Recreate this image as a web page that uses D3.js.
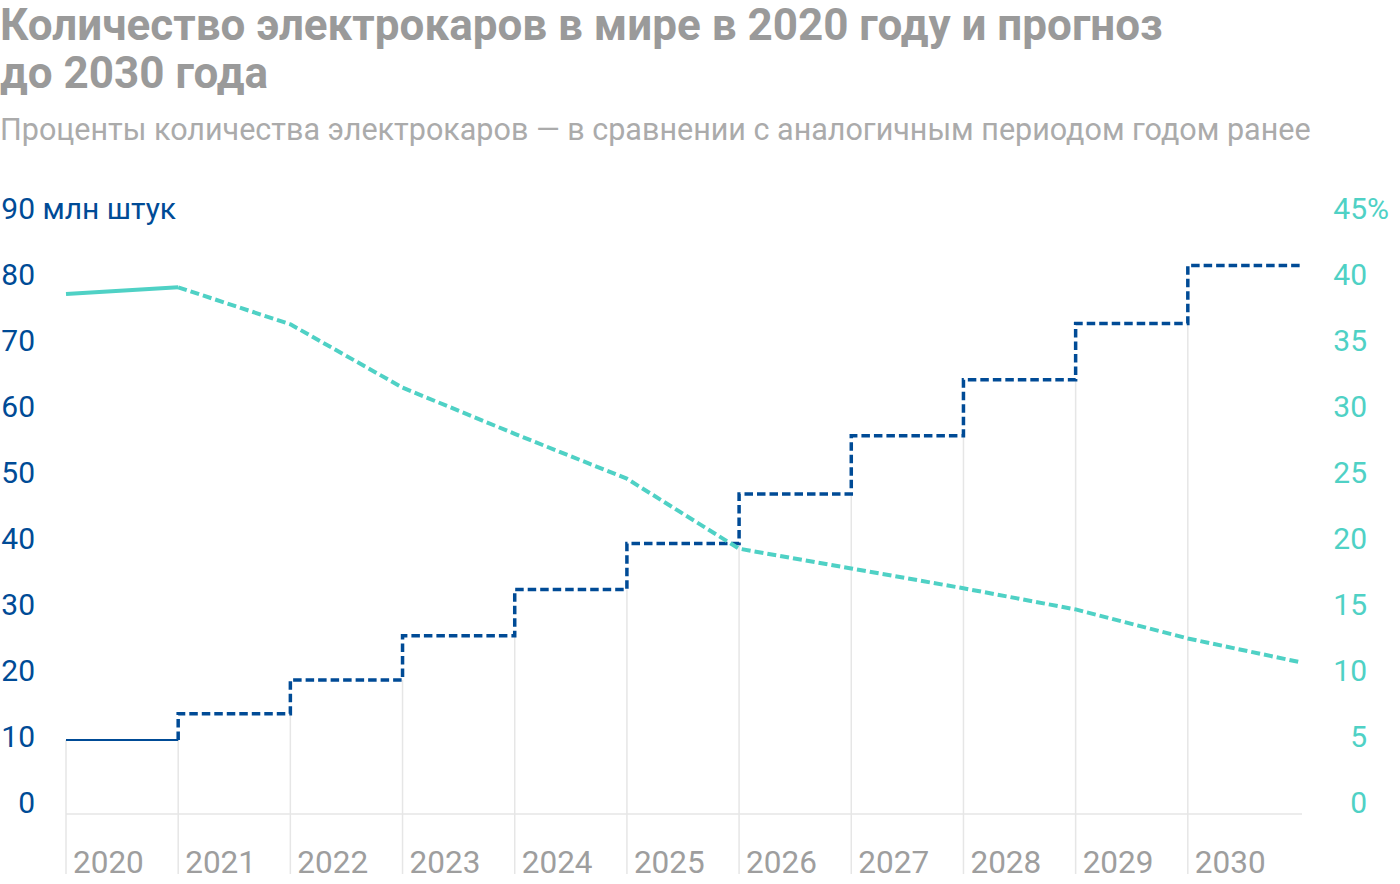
<!DOCTYPE html>
<html>
<head>
<meta charset="utf-8">
<script src="https://cdn.jsdelivr.net/npm/d3@7"></script>
<style>
  html, body { margin: 0; padding: 0; background: #fff; }
  svg { display: block; }
  text { font-family: Roboto, "Noto Sans", sans-serif; }
</style>
</head>
<body>
<svg id="chart" width="1400" height="884"></svg>
<script>
// ---- data ----
const titleLines = ["Количество электрокаров в мире в 2020 году и прогноз", "до 2030 года"];
const subtitle = "Проценты количества электрокаров — в сравнении с аналогичным периодом годом ранее";
const years = [2020, 2021, 2022, 2023, 2024, 2025, 2026, 2027, 2028, 2029, 2030];
const evStock = [11.2, 15.2, 20.3, 27.0, 34.0, 41.0, 48.5, 57.3, 65.8, 74.3, 83.1]; // млн штук
const pctX = [2020, 2021, 2022, 2023, 2024, 2025, 2026, 2027, 2028, 2029, 2030, 2031];
const pctValues = [39.4, 39.9, 37.1, 32.3, 28.8, 25.4, 20.1, 18.6, 17.1, 15.5, 13.3, 11.5]; // %
const leftTicks = [0, 10, 20, 30, 40, 50, 60, 70, 80, 90];
const rightTicks = [0, 5, 10, 15, 20, 25, 30, 35, 40, 45];
const leftUnit = " млн штук";
const rightUnit = "%";

// ---- style ----
const BLUE = "#004b96";
const TEAL = "#4fd1c5";
const GRID = "#e6e6e6";

const svg = d3.select("#chart");

const x = d3.scaleLinear().domain([2020, 2031]).range([66, 1300]);
const yL = d3.scaleLinear().domain([0, 90]).range([814, 220]);
const yR = d3.scaleLinear().domain([0, 45]).range([814, 220]);

// title
svg.append("g").selectAll("text").data(titleLines).join("text")
  .attr("x", 0).attr("y", (d, i) => 40 + i * 48)
  .attr("font-size", 44).attr("font-weight", 700).attr("fill", "#9a9a9a")
  .text(d => d);
svg.append("text").attr("x", 0).attr("y", 140)
  .attr("font-size", 30.5).attr("fill", "#ababab").text(subtitle);

// grid lines (from the previous step level down)
svg.append("g").selectAll("line").data(years).join("line")
  .attr("x1", d => x(d)).attr("x2", d => x(d))
  .attr("y1", (d, i) => yL(i === 0 ? evStock[0] : evStock[i - 1]))
  .attr("y2", 874)
  .attr("stroke", GRID).attr("stroke-width", 1.5);
// baseline
svg.append("line").attr("x1", x(2020)).attr("x2", 1302)
  .attr("y1", yL(0)).attr("y2", yL(0))
  .attr("stroke", GRID).attr("stroke-width", 1.5);

// year labels
svg.append("g").selectAll("text").data(years).join("text")
  .attr("x", d => x(d) + 7).attr("y", 873)
  .attr("font-size", 31.5).attr("fill", "#9e9e9e")
  .text(d => d);

// left axis labels
const lg = svg.append("g");
lg.selectAll("text.num").data(leftTicks).join("text").attr("class", "num")
  .attr("x", 35).attr("y", d => yL(d) - 1).attr("text-anchor", "end")
  .attr("font-size", 30).attr("fill", BLUE).text(d => d);
lg.append("text").attr("x", 35).attr("y", yL(90) - 1)
  .attr("font-size", 30).attr("fill", BLUE).attr("xml:space", "preserve").text(leftUnit);

// right axis labels
const rg = svg.append("g");
rg.selectAll("text.num").data(rightTicks).join("text").attr("class", "num")
  .attr("x", 1367).attr("y", d => yR(d) - 1).attr("text-anchor", "end")
  .attr("font-size", 30).attr("fill", TEAL).text(d => d);
rg.append("text").attr("x", 1367).attr("y", yR(45) - 1)
  .attr("font-size", 30).attr("fill", TEAL).text(rightUnit);

// blue step line
const stepLine = d3.line().x(d => x(d[0])).y(d => yL(d[1])).curve(d3.curveStepAfter);
const solidStep = [[2020, evStock[0]], [2021, evStock[0]]];
const dashedStep = [[2021, evStock[0]]]
  .concat(years.slice(1).map((yr, i) => [yr, evStock[i + 1]]))
  .concat([[2031, evStock[evStock.length - 1]]]);
svg.append("path").attr("d", stepLine(solidStep))
  .attr("fill", "none").attr("stroke", BLUE).attr("stroke-width", 2);
svg.append("path").attr("d", stepLine(dashedStep))
  .attr("fill", "none").attr("stroke", BLUE).attr("stroke-width", 3.5)
  .attr("stroke-dasharray", "8.5,4");

// teal line
const pctPts = pctX.map((px, i) => [px, pctValues[i]]);
const pctLine = d3.line().x(d => x(d[0])).y(d => yR(d[1]));
svg.append("path").attr("d", pctLine(pctPts.slice(0, 2)))
  .attr("fill", "none").attr("stroke", TEAL).attr("stroke-width", 4)
  .attr("stroke-linejoin", "round");
svg.append("path").attr("d", pctLine(pctPts.slice(1)))
  .attr("fill", "none").attr("stroke", TEAL).attr("stroke-width", 4)
  .attr("stroke-dasharray", "9,4").attr("stroke-linejoin", "round");
</script>
</body>
</html>
